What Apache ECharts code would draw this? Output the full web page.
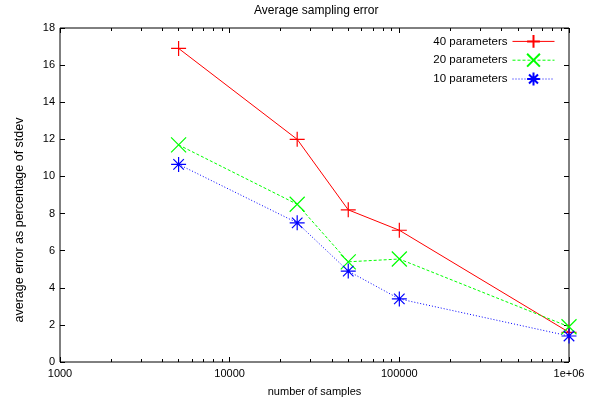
<!DOCTYPE html>
<html>
<head>
<meta charset="utf-8">
<script src="https://cdn.jsdelivr.net/npm/echarts@6/dist/echarts.min.js"></script>
<style>
  html, body { margin: 0; padding: 0; background: #fff; }
  #main { width: 595px; height: 402px; }
</style>
</head>
<body>
<div id="main"></div>
<script>
// 数据
var samples = [5000, 25000, 50000, 100000, 1000000];
var err40 = [16.9, 12.0, 8.2, 7.1, 1.6];
var err20 = [11.7, 8.5, 5.4, 5.55, 1.9];
var err10 = [10.65, 7.5, 4.9, 3.4, 1.4];
var seriesNames = ['40 parameters', '20 parameters', '10 parameters'];
// 刻度
var xMajor = [1000, 10000, 100000, 1000000];
var xLabels = ['1000', '10000', '100000', '1e+06'];
var xMinor = [2000, 3000, 4000, 5000, 6000, 7000, 8000, 9000,
              20000, 30000, 40000, 50000, 60000, 70000, 80000, 90000,
              200000, 300000, 400000, 500000, 600000, 700000, 800000, 900000];

var FONT = '"Liberation Sans", Arial, sans-serif';
var plus = 'path://M0,-10L0,10M-10,0L10,0';
var cross = 'path://M-10,-10L10,10M-10,10L10,-10';
var star = 'path://M0,-10L0,10M-10,0L10,0M-7,-7L7,7M-7,7L7,-7';

function pairs(xs, ys) {
  var out = [];
  for (var i = 0; i < xs.length; i++) {
    out.push([xs[i], ys[i]]);
  }
  return out;
}

function lineSeries(name, ys, color, symbol, dash) {
  return {
    name: name,
    type: 'line',
    xAxisIndex: 0,
    yAxisIndex: 0,
    data: pairs(samples, ys),
    symbol: symbol,
    symbolSize: 15,
    color: color,
    itemStyle: { color: color, borderColor: color, borderWidth: 1.2 },
    lineStyle: { color: color, width: 1, type: dash },
    emphasis: { disabled: true }
  };
}

// 边框由 grid 画, 轴线关掉 (轴线打开时中间刻度不显示)
function xAxisDef(pos, major, showLabel) {
  return {
    type: 'log',
    logBase: 10,
    position: pos,
    min: 1000,
    max: 1000000,
    axisLine: { show: false, onZero: false },
    axisTick: {
      show: true,
      inside: true,
      length: major ? 5 : 3,
      customValues: major ? xMajor : xMinor,
      lineStyle: { color: '#000', width: 1 }
    },
    axisLabel: {
      show: showLabel,
      customValues: xMajor,
      margin: 6,
      color: '#000',
      fontFamily: FONT,
      fontSize: 11,
      formatter: function (v) {
        var i = xMajor.indexOf(Math.round(v));
        return i >= 0 ? xLabels[i] : '';
      }
    },
    splitLine: { show: false },
    name: showLabel ? 'number of samples' : '',
    nameLocation: 'middle',
    nameGap: 24,
    nameTextStyle: { color: '#000', fontFamily: FONT, fontSize: 11 }
  };
}

function yAxisDef(pos, showLabel) {
  return {
    type: 'value',
    position: pos,
    min: 0,
    max: 18,
    interval: 2,
    axisLine: { show: false, onZero: false },
    axisTick: { show: true, inside: true, length: 5, lineStyle: { color: '#000', width: 1 } },
    axisLabel: {
      show: showLabel,
      margin: 5,
      color: '#000',
      fontFamily: FONT,
      fontSize: 11
    },
    splitLine: { show: false },
    name: showLabel ? 'average error as percentage of stdev' : '',
    nameLocation: 'middle',
    nameGap: 34,
    nameTextStyle: { color: '#000', fontFamily: FONT, fontSize: 12.5, padding: [0, 50, 0, 0] }
  };
}

var myChart = echarts.init(document.getElementById('main'));
var option = {
  animation: false,
  backgroundColor: '#fff',
  title: {
    text: 'Average sampling error',
    left: 254,
    top: 5,
    padding: 0,
    textStyle: { color: '#000', fontFamily: FONT, fontSize: 12, fontWeight: 'normal' }
  },
  legend: {
    orient: 'vertical',
    right: 35,
    top: 29,
    align: 'right',
    itemWidth: 42,
    itemHeight: 16,
    itemGap: 4,
    data: seriesNames,
    lineStyle: { width: 1 },
    textStyle: { color: '#000', fontFamily: FONT, fontSize: 11.5 }
  },
  grid: {
    left: 60, right: 26, top: 28, bottom: 38,
    show: true, borderColor: '#000', borderWidth: 1, backgroundColor: 'transparent'
  },
  xAxis: [
    xAxisDef('bottom', true, true),
    xAxisDef('bottom', false, false),
    xAxisDef('top', true, false),
    xAxisDef('top', false, false)
  ],
  yAxis: [
    yAxisDef('left', true),
    yAxisDef('right', false)
  ],
  series: [
    lineSeries(seriesNames[0], err40, '#ff0000', plus, 'solid'),
    lineSeries(seriesNames[1], err20, '#00ff00', cross, [3, 2]),
    lineSeries(seriesNames[2], err10, '#0000ff', star, [1, 2])
  ]
};
myChart.setOption(option);
</script>
</body>
</html>
